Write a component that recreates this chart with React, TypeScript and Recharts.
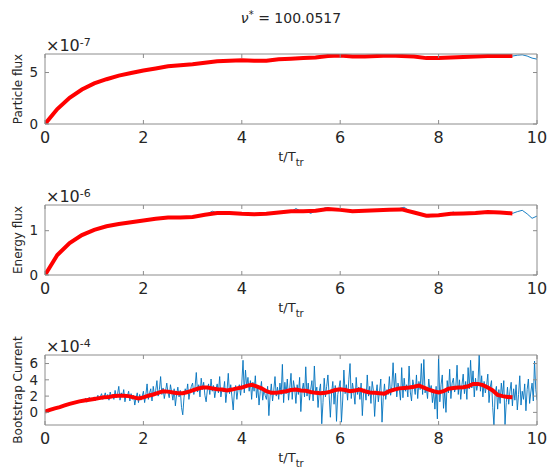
import { LineChart, Line, XAxis, YAxis } from 'recharts'

const xTicks = [0, 2, 4, 6, 8, 10]

// particle flux, in units of 1e-7
const particleTicks = [0, 5]
const particleBlue = [
  0.0, 0.65, 1.2, 1.7, 2.15, 2.55, 2.9, 3.2, 3.45, 3.7,
  3.95, 4.1, 4.3, 4.45, 4.55, 4.7, 4.8, 4.9, 5.0, 5.1,
  5.2, 5.3, 5.35, 5.45, 5.5, 5.6, 5.65, 5.7, 5.7, 5.75,
  5.8, 5.85, 5.95, 6.0, 6.05, 6.1, 6.12, 6.15, 6.18, 6.2,
  6.2, 6.18, 6.15, 6.12, 6.15, 6.15, 6.2, 6.28, 6.3, 6.33,
  6.35, 6.38, 6.4, 6.42, 6.45, 6.45, 6.52, 6.58, 6.62, 6.65,
  6.65, 6.6, 6.55, 6.55, 6.55, 6.55, 6.58, 6.6, 6.62, 6.64,
  6.65, 6.66, 6.62, 6.58, 6.56, 6.55, 6.5, 6.42, 6.4, 6.4,
  6.4, 6.42, 6.45, 6.46, 6.48, 6.5, 6.52, 6.55, 6.56, 6.58,
  6.6, 6.6, 6.6, 6.6, 6.6, 6.6, 6.68, 6.72, 6.6, 6.4,
  6.3,
]
const particleRed = [
  0.0, 1.45, 2.55, 3.35, 3.95, 4.35, 4.7, 4.95, 5.2, 5.4,
  5.6, 5.7, 5.8, 5.95, 6.1, 6.15, 6.2, 6.15, 6.15, 6.3,
  6.35, 6.4, 6.45, 6.6, 6.65, 6.55, 6.55, 6.6, 6.65, 6.6,
  6.55, 6.4, 6.4, 6.45, 6.5, 6.55, 6.6, 6.6, 6.6,
]

// energy flux, in units of 1e-6
const energyTicks = [0, 1]
const energyBlue = [
  0.0, 0.22, 0.38, 0.52, 0.63, 0.72, 0.8, 0.87, 0.93, 0.98,
  1.02, 1.06, 1.09, 1.11, 1.13, 1.15, 1.17, 1.18, 1.2, 1.21,
  1.23, 1.24, 1.26, 1.28, 1.29, 1.3, 1.31, 1.28, 1.31, 1.3,
  1.31, 1.33, 1.35, 1.38, 1.44, 1.4, 1.42, 1.39, 1.41, 1.38,
  1.38, 1.37, 1.36, 1.37, 1.38, 1.38, 1.4, 1.43, 1.42, 1.45,
  1.43, 1.5, 1.44, 1.45, 1.39, 1.45, 1.47, 1.52, 1.5, 1.47,
  1.46, 1.44, 1.43, 1.46, 1.44, 1.45, 1.47, 1.46, 1.47, 1.46,
  1.47, 1.48, 1.5, 1.53, 1.45, 1.41, 1.37, 1.33, 1.31, 1.34,
  1.35, 1.37, 1.39, 1.42, 1.38, 1.4, 1.39, 1.41, 1.4, 1.43,
  1.42, 1.41, 1.43, 1.4, 1.38, 1.39, 1.43, 1.46, 1.38, 1.28,
  1.33,
]
const energyRed = [
  0.0, 0.45, 0.72, 0.9, 1.02, 1.1, 1.15, 1.19, 1.23, 1.27,
  1.3, 1.3, 1.31, 1.36, 1.4, 1.4, 1.38, 1.37, 1.38, 1.41,
  1.44, 1.44, 1.45, 1.49, 1.47, 1.44, 1.45, 1.46, 1.47, 1.48,
  1.41, 1.34, 1.35, 1.38, 1.39, 1.4, 1.42, 1.41, 1.39,
]

// bootstrap current, in units of 1e-4 (raw signal every 0.025 T_tr)
const bootstrapTicks = [0, 2, 4, 6]
const bootstrapBlue = [
  0.05, 0.12, 0.2, 0.18, 0.25, 0.32, 0.4, 0.38, 0.5, 0.45,
  0.6, 0.55, 0.7, 0.78, 0.72, 0.85, 0.8, 0.95, 0.9, 1.05,
  1.15, 0.95, 1.1, 1.3, 1.05, 1.4, 1.2, 1.5, 1.25, 1.45,
  1.6, 1.3, 1.5, 1.75, 1.25, 1.6, 1.85, 1.4, 1.7, 1.5,
  1.9, 1.45, 1.7, 2.1, 1.55, 1.95, 2.3, 1.6, 1.9, 2.4,
  1.7, 2.2, 1.5, 2.5, 1.9, 2.2, 1.6, 2.7, 1.8, 2.3,
  3.2, 1.5, 2.4, 1.9, 2.8, 1.3, 2.2, 2.0, 2.6, 1.4,
  2.3, 1.6, 2.1, 0.9, 1.8, 2.4, 1.2, 2.2, 1.5, 1.9,
  2.6, 1.2, 2.2, 3.5, 1.6, 2.4, 2.9, 1.4, 3.2, 2.1,
  2.7, 3.9, 2.0, 2.8, 4.4, 2.2, 3.0, 1.7, 2.6, 3.6,
  2.4, 1.8, 3.4, 2.5, 1.5, 2.9, 0.8, 2.2, 3.1, 1.9,
  2.7, 0.6, -0.3, 1.8, 2.9, 2.3, 3.5, 1.6, 2.6, 3.2,
  3.6, 2.2, 3.1, 4.9, 2.5, 3.4, 1.9, 4.2, 2.8, 3.7,
  2.1, 1.3, 2.8, 3.5, 2.2, 4.1, 2.6, 3.3, 1.8, 2.9,
  3.5, 2.4, 4.4, 1.9, 3.0, 2.5, 3.8, 1.2, 2.7, 4.8,
  2.3, 3.4, 1.9, 0.3, 2.6, 3.3, 1.6, 2.9, 3.4, 2.1,
  3.6, 6.4, 2.4, 5.2, 3.1, 4.3, 2.6, 3.9, 1.6, 3.7,
  2.6, 4.5, 1.8, 3.3, 0.9, 2.6, 3.8, 1.5, 2.8, 2.1,
  1.6, 3.2, -0.4, 2.0, 3.5, 1.4, 2.7, 4.4, 2.0, 3.1,
  1.6, 3.6, 2.2, 5.9, 1.2, 3.7, 2.3, 4.1, 1.5, 3.0,
  4.8, 1.6, 3.9, 2.9, 1.1, 3.4, 2.2, 4.3, 0.1, 2.7,
  3.6, 1.9, 5.6, 2.0, 3.6, 1.5, 2.8, 3.9, 1.4, 5.7,
  2.3, 3.1, 0.6, 2.6, 3.5, -1.4, 1.2, 4.2, 1.9, 3.2,
  4.6, 2.1, -0.6, 2.4, 3.8, 1.0, 3.3, -1.1, 2.2, 3.0,
  3.9, -1.2, 1.4, 5.2, 2.3, 3.4, 1.5, 4.0, 6.0, 1.7,
  3.6, 2.5, 1.0, 4.3, 2.2, 3.1, 1.6, 3.6, -0.4, 2.4,
  2.9, 1.5, 4.6, 2.0, 3.2, 1.1, 3.8, 2.7, -0.5, 2.2,
  3.4, 1.3, 2.6, 4.1, -1.2, 1.8, 3.5, 1.6, 2.8, 2.2,
  4.4, 2.1, 3.2, 6.1, 2.7, 4.8, 1.9, 3.6, 2.9, 1.5,
  5.5, 1.8, 4.2, 2.6, 3.4, 1.9, 5.7, 2.5, 1.4, 4.0,
  3.2, 2.2, 4.6, 1.7, 3.8, 2.8, 6.0, 2.2, 6.5, 2.4,
  3.1, 1.7, 4.1, 2.6, 3.3, 1.2, 2.6, 0.4, 3.2, -0.8,
  7.1, 1.3, 3.4, 4.6, 0.5, 2.8, 0.0, 3.9, 2.4, 5.3,
  1.7, 3.6, 4.2, 2.5, 3.1, 5.8, 2.2, 4.0, 1.6, 3.4,
  4.7, 2.3, 3.8, 1.6, 5.5, 2.9, 6.4, 3.0, 5.1, 1.9,
  4.2, 2.7, 3.6, 7.1, 2.6, 4.5, 1.9, 3.8, 2.4, 3.3,
  4.7, 1.2, 3.1, 3.9, 0.6, -1.6, 2.4, 3.2, 0.4, 2.8,
  1.1, 3.6, 2.0, 3.9, -1.5, 1.2, 3.1, 1.0, 2.6, 3.7,
  0.8, 2.9, 1.5, 3.4, 0.3, 2.2, 4.5, 0.9, 2.6, 1.6,
  3.5, 0.2, 2.8, 4.1, 1.1, 2.5, 3.6, 1.4, 6.3, 2.8,
  1.5,
]
const bootstrapRed = [
  0.1, 0.3, 0.5, 0.65, 0.85, 1.05, 1.2, 1.35, 1.45, 1.55,
  1.65, 1.75, 1.85, 1.9, 2.0, 2.05, 2.05, 2.0, 1.85, 1.7,
  1.85, 2.05, 2.2, 2.4, 2.6, 2.55, 2.45, 2.35, 2.35, 2.5,
  2.7, 2.9, 3.05, 3.05, 2.95, 2.85, 2.8, 2.7, 2.8, 2.95,
  3.05, 3.25, 3.4, 3.2, 2.95, 2.6, 2.4, 2.4, 2.5, 2.6,
  2.75, 2.8, 2.7, 2.65, 2.5, 2.4, 2.35, 2.4, 2.55, 2.75,
  2.85, 2.75, 2.6, 2.7, 2.8, 2.6, 2.45, 2.4, 2.35, 2.3,
  2.6, 2.8, 2.95, 3.0, 3.05, 3.15, 3.3, 3.05, 2.8, 2.6,
  2.45, 2.6, 2.9, 3.0, 3.05, 3.1, 3.2, 3.5, 3.5, 3.35,
  3.05, 2.7, 2.15, 2.0, 1.9, 1.85,
]

const BLUE = '#0072BD'
const RED = '#FF0000'
const FRAME = '#8c8c8c'
const TEXT = '#262626'
const FONT = '"DejaVu Sans", sans-serif'

const toPoints = (vals: number[], dt: number) =>
  vals.map((v, i) => ({ t: Math.round(i * dt * 1000) / 1000, v }))

interface PanelProps {
  top: number
  domain: [number, number]
  ticks: number[]
  blue: number[]
  blueDt: number
  red: number[]
  redDt: number
  label: string
  exponent: string
}

function Panel({ top, domain, ticks, blue, blueDt, red, redDt, label, exponent }: PanelProps) {
  const W = 547
  const H = 150
  const mt = 30
  const plotH = 70
  // axes are 1px thick so that they get drawn; margins compensate
  const frame = {
    type: 'number' as const,
    allowDataOverflow: true,
    axisLine: { stroke: FRAME },
    tickLine: { stroke: FRAME },
    tickSize: -4,
    interval: 0 as const,
  }
  return (
    <div style={{ position: 'absolute', left: 0, top: top - mt, width: W, height: H }}>
      <LineChart width={W} height={H} margin={{ top: mt - 1, right: 9, bottom: H - mt - plotH - 1, left: 44 }}>
        <XAxis xAxisId="b" dataKey="t" domain={[0, 10]} ticks={xTicks} height={1} tickMargin={12}
          tick={{ fontSize: 16, fill: TEXT, fontFamily: FONT }} {...frame} />
        <XAxis xAxisId="t" orientation="top" dataKey="t" domain={[0, 10]} ticks={xTicks} height={1} tickFormatter={() => ''} {...frame} />
        <YAxis yAxisId="l" domain={domain} ticks={ticks} width={1} tickMargin={11}
          tick={{ fontSize: 13.5, fill: TEXT, fontFamily: FONT }} {...frame} />
        <YAxis yAxisId="r" orientation="right" domain={domain} ticks={ticks} width={1} tickFormatter={() => ''} {...frame} />
        <Line xAxisId="b" yAxisId="l" data={toPoints(blue, blueDt)} dataKey="v" type="linear"
          stroke={BLUE} strokeWidth={0.9} dot={false} isAnimationActive={false} />
        <Line xAxisId="b" yAxisId="l" data={toPoints(red, redDt)} dataKey="v" type="linear"
          stroke={RED} strokeWidth={4} dot={false} isAnimationActive={false} />
      </LineChart>
      <div style={{ position: 'absolute', left: 46, top: mt - 19, fontSize: 16, lineHeight: '16px', color: TEXT, whiteSpace: 'nowrap' }}>
        ×10<sup style={{ fontSize: 11, verticalAlign: '5px' }}>{exponent}</sup>
      </div>
      <div style={{ position: 'absolute', left: 18, top: mt + plotH / 2, fontSize: 12, color: TEXT, whiteSpace: 'nowrap',
        transform: 'translate(-50%, -50%) rotate(-90deg)' }}>
        {label}
      </div>
      <div style={{ position: 'absolute', left: 45, width: 492, top: mt + plotH + 26, textAlign: 'center', fontSize: 13, lineHeight: '13px', color: TEXT }}>
        t/T<sub style={{ fontSize: 10, verticalAlign: '-5px' }}>tr</sub>
      </div>
    </div>
  )
}

export default function App() {
  return (
    <div style={{ position: 'absolute', left: 0, top: 0, width: 547, height: 470, background: '#fff', fontFamily: FONT }}>
      <div style={{ position: 'absolute', left: 45, width: 492, top: 8, textAlign: 'center', fontSize: 14, lineHeight: '14px', color: TEXT }}>
        <i>ν</i><sup style={{ fontSize: 10, verticalAlign: '5px' }}>*</sup> = 100.0517
      </div>
      <Panel top={54} domain={[0, 6.8]} ticks={particleTicks} blue={particleBlue} blueDt={0.1}
        red={particleRed} redDt={0.25} label="Particle flux" exponent="-7" />
      <Panel top={205} domain={[0, 1.58]} ticks={energyTicks} blue={energyBlue} blueDt={0.1}
        red={energyRed} redDt={0.25} label="Energy flux" exponent="-6" />
      <Panel top={355} domain={[-1.55, 7.05]} ticks={bootstrapTicks} blue={bootstrapBlue} blueDt={0.025}
        red={bootstrapRed} redDt={0.1} label="Bootstrap Current" exponent="-4" />
    </div>
  )
}
